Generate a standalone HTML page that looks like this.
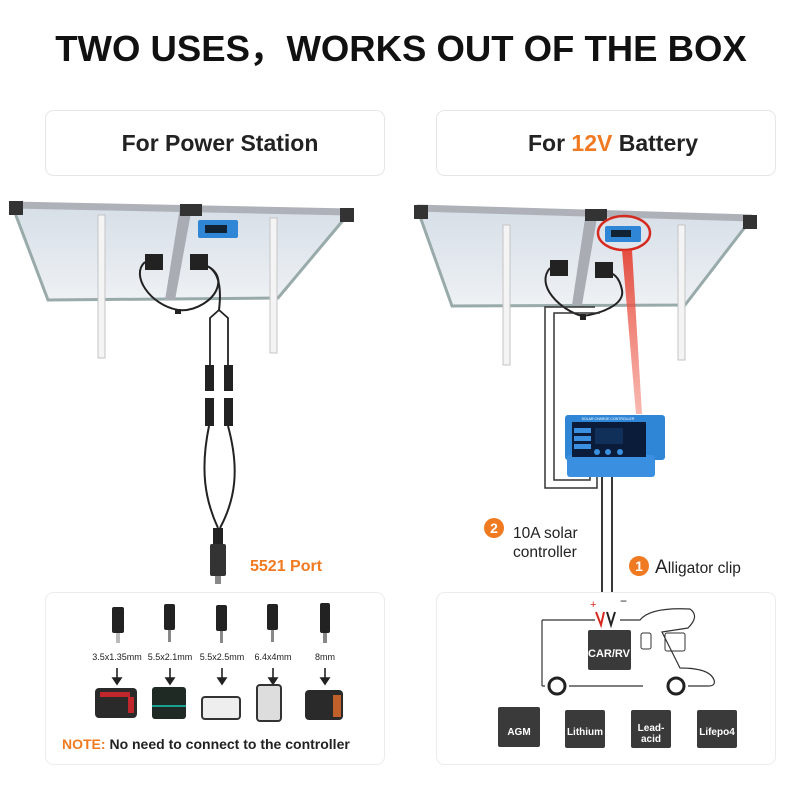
<!DOCTYPE html>
<html><head><meta charset="utf-8"><style>
body{margin:0;background:#fff;width:800px;height:800px;overflow:hidden;font-family:"Liberation Sans",sans-serif}
svg{display:block}
</style></head><body>
<svg width="800" height="800" viewBox="0 0 800 800" xmlns="http://www.w3.org/2000/svg" font-family="Liberation Sans, sans-serif">
<defs>
<linearGradient id="pg" x1="0" y1="0" x2="0" y2="1"><stop offset="0" stop-color="#d6dee7"/><stop offset="1" stop-color="#eef1f4"/></linearGradient>
<linearGradient id="beam" x1="0" y1="0" x2="0" y2="1"><stop offset="0" stop-color="#e53d2e" stop-opacity=".9"/><stop offset="1" stop-color="#f07060" stop-opacity=".5"/></linearGradient>
</defs>
<text x="401" y="61" font-size="36.5" font-weight="bold" text-anchor="middle" fill="#111">TWO USES，WORKS OUT OF THE BOX</text>
<rect x="45.5" y="110.5" width="339" height="65" rx="8" fill="#fff" stroke="#e6e6e6"/>
<rect x="436.5" y="110.5" width="339" height="65" rx="8" fill="#fff" stroke="#e6e6e6"/>
<text x="220" y="151" font-size="23" font-weight="bold" text-anchor="middle" fill="#222">For Power Station</text>
<text x="613" y="151" font-size="23" font-weight="bold" text-anchor="middle" fill="#222">For <tspan fill="#f07a22">12V</tspan> Battery</text>

<!-- LEFT PANEL -->
<g>
<polygon points="12,205 350,212 278,298 48,300" fill="url(#pg)" stroke="#9aa" stroke-width="3"/>
<line x1="12" y1="205" x2="350" y2="212" stroke="#aeb2b8" stroke-width="7"/>
<polygon points="180,207 192,207 175,300 165,300" fill="#a9adb3"/>
<rect x="9" y="201" width="14" height="14" fill="#333"/><rect x="340" y="208" width="14" height="14" fill="#333"/>
<rect x="180" y="204" width="22" height="12" fill="#333"/>
<rect x="198" y="220" width="40" height="18" rx="2" fill="#2f86d6"/>
<rect x="205" y="225" width="22" height="8" fill="#123"/>
<rect x="98" y="215" width="7" height="143" fill="#f4f4f4" stroke="#c4c4c4"/>
<rect x="270" y="218" width="7" height="135" fill="#f4f4f4" stroke="#c4c4c4"/>
<rect x="145" y="254" width="18" height="16" fill="#222"/><rect x="190" y="254" width="18" height="16" fill="#222"/>
<path d="M145 262 C130 275 150 305 178 310 C195 312 215 300 218 285 C220 275 212 265 200 265" stroke="#222" stroke-width="2" fill="none"/>
<path d="M205 265 C218 270 222 285 219 310" stroke="#222" stroke-width="2" fill="none"/>
<rect x="175" y="309" width="6" height="5" fill="#222"/>
<path d="M219 310 L210 318 L210 365 M219 310 L228 318 L228 365" stroke="#222" stroke-width="1.8" fill="none"/>
<rect x="205" y="365" width="9" height="26" fill="#222"/><rect x="224" y="365" width="9" height="26" fill="#222"/>
<rect x="205" y="398" width="9" height="28" fill="#222"/><rect x="224" y="398" width="9" height="28" fill="#222"/>
<path d="M209 426 C200 470 205 500 218 528 M228 426 C240 470 235 500 220 528" stroke="#222" stroke-width="2" fill="none"/>
<rect x="213" y="528" width="10" height="16" fill="#222"/>
<rect x="210" y="544" width="16" height="32" rx="2" fill="#333"/>
<rect x="215" y="576" width="6" height="8" fill="#888"/>
</g>
<text x="250" y="571" font-size="16" font-weight="bold" fill="#f07a22">5521 Port</text>

<!-- RIGHT PANEL -->
<g>
<polygon points="417,208 752,218 685,305 452,306" fill="url(#pg)" stroke="#9aa" stroke-width="3"/>
<line x1="417" y1="208" x2="752" y2="218" stroke="#aeb2b8" stroke-width="7"/>
<polygon points="586,212 598,212 582,305 572,305" fill="#a9adb3"/>
<rect x="414" y="205" width="14" height="14" fill="#333"/><rect x="743" y="215" width="14" height="14" fill="#333"/>
<rect x="585" y="209" width="22" height="12" fill="#333"/>
<rect x="605" y="226" width="36" height="16" rx="2" fill="#2f86d6"/>
<rect x="611" y="230" width="20" height="7" fill="#123"/>
<ellipse cx="624" cy="233" rx="26" ry="17" fill="none" stroke="#d62a1f" stroke-width="2.5"/>
<polygon points="622,250 632,250 642,414 636,414" fill="url(#beam)"/>
<rect x="503" y="225" width="7" height="140" fill="#f4f4f4" stroke="#c4c4c4"/>
<rect x="678" y="225" width="7" height="135" fill="#f4f4f4" stroke="#c4c4c4"/>
<rect x="550" y="260" width="18" height="16" fill="#222"/><rect x="595" y="262" width="18" height="16" fill="#222"/>
<path d="M550 268 C535 285 560 310 582 316 C600 314 625 305 622 290 C620 280 615 272 605 272" stroke="#222" stroke-width="2" fill="none"/>
<rect x="580" y="314" width="6" height="6" fill="#222"/>
<path d="M595 307 L545 307 L545 488 L597 488 L597 476 M600 313 L554 313 L554 480 L590 480 L590 476" stroke="#333" stroke-width="1.5" fill="none"/>
<path d="M602 476 L602 612 M612 476 L612 612" stroke="#222" stroke-width="1.8" fill="none"/>
<rect x="565" y="415" width="100" height="45" rx="3" fill="#2f86d6"/>
<rect x="567" y="455" width="88" height="22" rx="3" fill="#3a8fe0"/>
<rect x="572" y="422" width="74" height="35" fill="#0b1c3a"/>
<rect x="595" y="428" width="28" height="16" fill="#10305a"/>
<rect x="574" y="428" width="17" height="5" fill="#3a8fe0"/><rect x="574" y="436" width="17" height="5" fill="#3a8fe0"/><rect x="574" y="444" width="17" height="5" fill="#3a8fe0"/>
<circle cx="597" cy="452" r="3" fill="#3a8fe0"/><circle cx="608" cy="452" r="3" fill="#3a8fe0"/><circle cx="620" cy="452" r="3" fill="#3a8fe0"/>
<text x="608" y="420" font-size="3.5" fill="#fff" text-anchor="middle">SOLAR CHARGE CONTROLLER</text>
</g>
<circle cx="494" cy="528" r="10" fill="#f07a22"/>
<text x="494" y="533" font-size="14" font-weight="bold" fill="#fff" text-anchor="middle">2</text>
<text x="513" y="538" font-size="15.5" fill="#222">10A solar</text>
<text x="513" y="557" font-size="15.5" fill="#222">controller</text>
<circle cx="639" cy="566" r="10" fill="#f07a22"/>
<text x="639" y="571" font-size="14" font-weight="bold" fill="#fff" text-anchor="middle">1</text>
<text x="655" y="573" font-size="19" fill="#222">A<tspan font-size="15.5">lligator clip</tspan></text>

<rect x="45.5" y="592.5" width="339" height="172" rx="8" fill="#fff" stroke="#ececec"/>
<rect x="436.5" y="592.5" width="339" height="172" rx="8" fill="#fff" stroke="#ececec"/>
<g fill="#222">
<rect x="112" y="607" width="12" height="26" rx="2"/><rect x="116" y="633" width="4" height="10" fill="#bbb"/>
<rect x="164" y="604" width="11" height="26" rx="2"/><rect x="168" y="630" width="3" height="12" fill="#888"/>
<rect x="216" y="605" width="11" height="26" rx="2"/><rect x="220" y="631" width="3" height="12" fill="#888"/>
<rect x="267" y="604" width="11" height="26" rx="2"/><rect x="271" y="630" width="3" height="12" fill="#888"/>
<rect x="320" y="603" width="10" height="30" rx="2"/><rect x="323" y="633" width="4" height="10" fill="#888"/>
</g>
<g font-size="9" fill="#222" text-anchor="middle">
<text x="117" y="660">3.5x1.35mm</text><text x="170" y="660">5.5x2.1mm</text><text x="222" y="660">5.5x2.5mm</text><text x="273" y="660">6.4x4mm</text><text x="325" y="660">8mm</text>
</g>
<g stroke="#222" stroke-width="1.6" fill="#222">
<path d="M117 668 v12 M170 668 v12 M222 668 v12 M273 668 v12 M325 668 v12" fill="none"/>
<polygon points="113,678 121,678 117,684"/><polygon points="166,678 174,678 170,684"/><polygon points="218,678 226,678 222,684"/><polygon points="269,678 277,678 273,684"/><polygon points="321,678 329,678 325,684"/>
</g>
<rect x="95" y="688" width="42" height="30" rx="4" fill="#2a2a2a"/><rect x="100" y="692" width="30" height="5" fill="#c0272d"/><rect x="128" y="697" width="6" height="16" fill="#c0272d"/>
<rect x="152" y="687" width="34" height="32" rx="3" fill="#1f2a25"/><rect x="152" y="705" width="34" height="2" fill="#1aa090"/>
<rect x="202" y="697" width="38" height="22" rx="3" fill="#eee" stroke="#333" stroke-width="2"/>
<rect x="257" y="685" width="24" height="36" rx="3" fill="#ddd" stroke="#333" stroke-width="2"/>
<rect x="305" y="690" width="38" height="30" rx="4" fill="#2a2a2a"/><rect x="333" y="695" width="8" height="22" fill="#c0602a"/>
<text x="62" y="749" font-size="14" font-weight="bold" fill="#222"><tspan fill="#f07a22">NOTE:</tspan> No need to connect to the controller</text>

<path d="M542 620 L595 620 M620 620 L640 620 Q650 607 690 609 Q700 616 688 628 L662 632 L680 668 Q710 668 714 680 Q716 686 708 686 L688 686 M643 686 L569 686 M545 686 L542 686 Z" fill="none" stroke="#333" stroke-width="1.2"/>
<path d="M542 620 L542 686" stroke="#333" stroke-width="1.2"/>
<circle cx="557" cy="686" r="8" fill="#fff" stroke="#222" stroke-width="3"/>
<circle cx="676" cy="686" r="8" fill="#fff" stroke="#222" stroke-width="3"/>
<rect x="641" y="633" width="10" height="16" rx="2" fill="none" stroke="#333"/>
<rect x="665" y="633" width="20" height="18" rx="2" fill="none" stroke="#333"/>
<rect x="588" y="630" width="43" height="40" rx="2" fill="#3a3a3a"/>
<text x="609" y="657" font-size="11" font-weight="bold" fill="#fff" text-anchor="middle">CAR/RV</text>
<path d="M596 612 L601 625 L604 612" stroke="#d62a1f" stroke-width="2" fill="none"/>
<path d="M607 612 L611 625 L615 612" stroke="#222" stroke-width="2" fill="none"/>
<text x="590" y="608" font-size="11" fill="#d62a1f">+</text>
<text x="620" y="605" font-size="12" fill="#222">−</text>
<g font-size="10" font-weight="bold" fill="#fff" text-anchor="middle">
<rect x="498" y="707" width="42" height="40" rx="2" fill="#3a3a3a"/><text x="519" y="735">AGM</text>
<rect x="565" y="710" width="40" height="38" rx="2" fill="#3a3a3a"/><text x="585" y="735">Lithium</text>
<rect x="631" y="710" width="40" height="38" rx="2" fill="#3a3a3a"/><text x="651" y="731">Lead-</text><text x="651" y="742">acid</text>
<rect x="697" y="710" width="40" height="38" rx="2" fill="#3a3a3a"/><text x="717" y="735">Lifepo4</text>
</g>
</svg>
</body></html>
